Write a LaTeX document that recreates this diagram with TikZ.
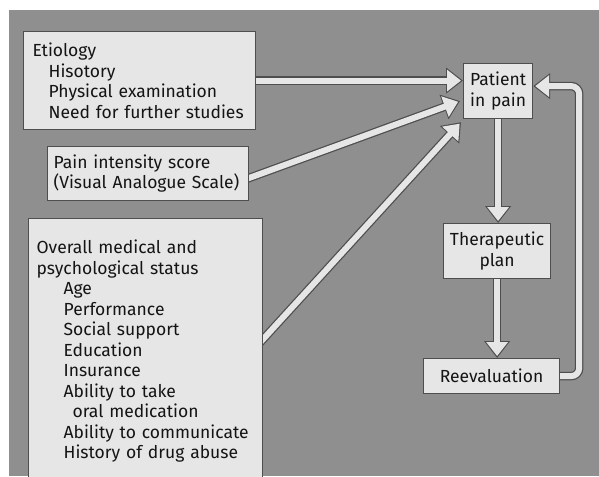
\documentclass[tikz,border=0pt]{standalone}
\usepackage{fontspec}
\setmainfont{Fira Sans}
\usetikzlibrary{arrows.meta,calc}

\definecolor{bggray}{HTML}{8F8F8F}
\definecolor{boxfill}{HTML}{E6E6E6}
\definecolor{boxline}{HTML}{4E4E4E}
\definecolor{ink}{HTML}{141414}

\pgfdeclarelayer{back}
\pgfsetlayers{back,main}

\tikzset{
  box/.style={draw=boxline, fill=boxfill, line width=1.2pt, text=ink, anchor=north west,
    inner sep=0pt, font=\fontsize{17.5}{20.5}\selectfont},
  pipe/.style={draw=boxline, line width=8.5pt, -{Triangle[width=25pt,length=17pt]},
    postaction={draw=boxfill, line width=6pt, shorten >=2pt, -{Triangle[width=21pt,length=14pt]}}}
}

\begin{document}
\begin{tikzpicture}[x=1pt,y=-1pt]

\useasboundingbox (0,0) rectangle (599,476);

% boxes on the left
\node[box, inner xsep=9pt, text width=214pt, minimum height=98pt, align=left] (etio) at (23,31)
  {Etiology\\\hspace*{16pt}Hisotory\\\hspace*{16pt}Physical examination\\\hspace*{16pt}Need for further studies};
\node[box, inner xsep=6pt, text width=189pt, minimum height=54pt, align=left] (pain) at (47,146)
  {Pain intensity score\\(Visual Analogue Scale)};
\node[box, inner xsep=8pt, text width=218pt, minimum height=265pt, align=left] (overall) at (28,218)
  {Overall medical and\\psychological status\\
   \hspace*{27pt}Age\\\hspace*{27pt}Performance\\\hspace*{27pt}Social support\\
   \hspace*{27pt}Education\\\hspace*{27pt}Insurance\\\hspace*{27pt}Ability to take\\
   \hspace*{36pt}oral medication\\\hspace*{27pt}Ability to communicate\\
   \hspace*{27pt}History of drug abuse};

% boxes on the right
\node[box, text width=69pt, minimum height=55pt, align=center] (patient) at (463,63) {Patient\\in pain};
\node[box, text width=107pt, minimum height=55pt, align=center] (therap) at (443,223) {Therapeutic\\plan};
\node[box, text width=136pt, minimum height=35pt, align=center] (reeval) at (423,358) {Reevaluation};

\begin{pgfonlayer}{back}
\fill[bggray] (9,10) rectangle (599,476);

\draw[pipe] ($(etio.east)+(-10,0)$) -- (etio.east -| patient.west);
\draw[pipe] ($(pain.east)+(-10,8)$) -- ($(patient.west)+(-3,10)$);
\draw[pipe] ($(overall.east)+(-10,-1)$) -- ($(patient.south west)+(-2,3)$);
\draw[pipe] (patient.south) -- (patient.south |- therap.north);
\draw[pipe] (therap.south) -- (therap.south |- reeval.north);
\draw[pipe, rounded corners=8pt] ($(reeval.east)+(-10,0)$) -- ++(29,0) |- ([yshift=5pt]patient.east);
\end{pgfonlayer}

\end{tikzpicture}
\end{document}
